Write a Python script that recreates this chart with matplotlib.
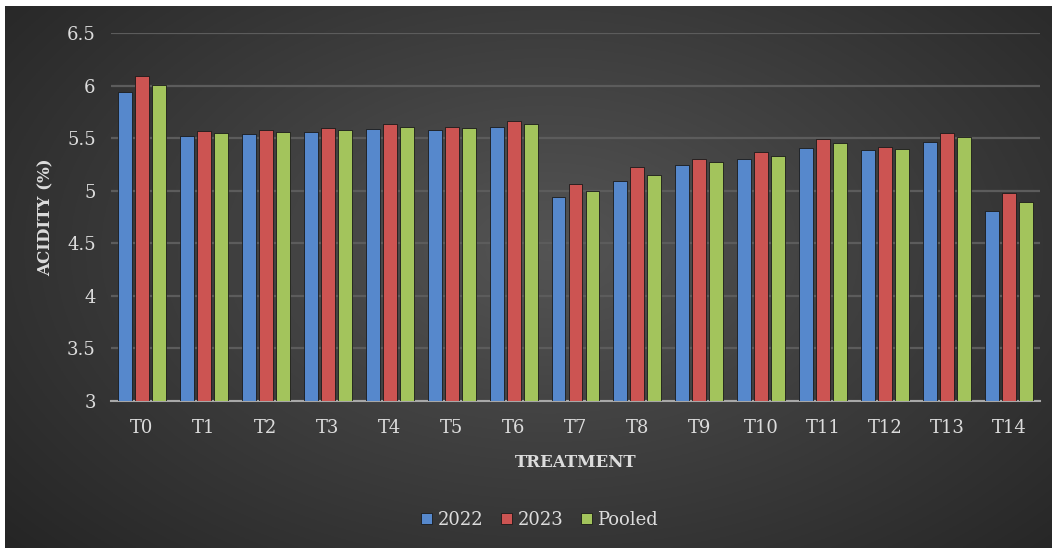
import numpy as np
import matplotlib
matplotlib.use("Agg")
import matplotlib.pyplot as plt

# datos
treatments = ["T0", "T1", "T2", "T3", "T4", "T5", "T6", "T7",
              "T8", "T9", "T10", "T11", "T12", "T13", "T14"]
acid_2022 = [5.94, 5.52, 5.54, 5.56, 5.59, 5.58, 5.61, 4.94,
             5.09, 5.24, 5.30, 5.41, 5.39, 5.46, 4.81]
acid_2023 = [6.09, 5.57, 5.58, 5.60, 5.63, 5.61, 5.66, 5.06,
             5.23, 5.30, 5.37, 5.49, 5.42, 5.55, 4.98]
acid_pooled = [6.01, 5.55, 5.56, 5.58, 5.61, 5.60, 5.63, 5.00,
               5.15, 5.27, 5.33, 5.45, 5.40, 5.51, 4.89]

series = [("2022", acid_2022, "#5688cc"),
          ("2023", acid_2023, "#cc5452"),
          ("Pooled", acid_pooled, "#a3c45c")]

plt.rcParams['font.family'] = ['DejaVu Serif']
txt = "#dcdcdc"

fig = plt.figure(figsize=(10.52, 5.48), dpi=100)
fig.patch.set_facecolor("white")

# fondo con degradado radial
bg = fig.add_axes([5 / 1052, 0, 1 - 5 / 1052, 1 - 6 / 548])
yy, xx = np.mgrid[0:1:300j, 0:1:600j]
d = np.sqrt(((xx - 0.52) / 0.75) ** 2 + ((yy - 0.45) / 0.9) ** 2)
shade = np.clip(0.33 - 0.2 * d, 0.11, 1)
bg.imshow(np.dstack([shade] * 3), aspect="auto", extent=[0, 1, 0, 1])
bg.set_axis_off()

ax = fig.add_axes([111 / 1052, 1 - 401 / 548, 929 / 1052, 368 / 548])
ax.set_facecolor("none")

x = np.arange(len(treatments))
w = 0.225
step = 0.275
for i, (name, vals, col) in enumerate(series):
    ax.bar(x + (i - 1) * step, np.array(vals) - 3, w, bottom=3, color=col,
           label=name, zorder=3, edgecolor="#1a1a1a", linewidth=0.6)

ax.set_ylim(3, 6.5)
ax.set_xlim(-0.5, len(treatments) - 0.5)
ax.set_yticks(np.arange(3, 6.51, 0.5))
ax.set_yticklabels(["3", "3.5", "4", "4.5", "5", "5.5", "6", "6.5"])
ax.set_xticks(x)
ax.set_xticklabels(treatments)
ax.tick_params(colors=txt, labelsize=13, length=0)
ax.tick_params(axis="y", pad=11)
ax.tick_params(axis="x", pad=13)
ax.grid(axis="y", color="#5c5c5c", linewidth=1.6, zorder=0)
for s in ["top", "right", "left"]:
    ax.spines[s].set_visible(False)
ax.spines["bottom"].set_color("#a8a8a8")
ax.spines["bottom"].set_linewidth(1.5)

ax.set_ylabel("ACIDITY (%)", color=txt, fontsize=12, fontweight="bold", labelpad=9)
ax.set_xlabel("TREATMENT", color=txt, fontsize=12, fontweight="bold", labelpad=12)

leg = fig.legend(loc="center", bbox_to_anchor=(0.513, 1 - 520 / 548), ncol=3,
                 frameon=False, fontsize=13, handlelength=0.6, handleheight=0.6,
                 handletextpad=0.3, columnspacing=1.0)
for t in leg.get_texts():
    t.set_color(txt)

fig.savefig("out.png", dpi=100)
